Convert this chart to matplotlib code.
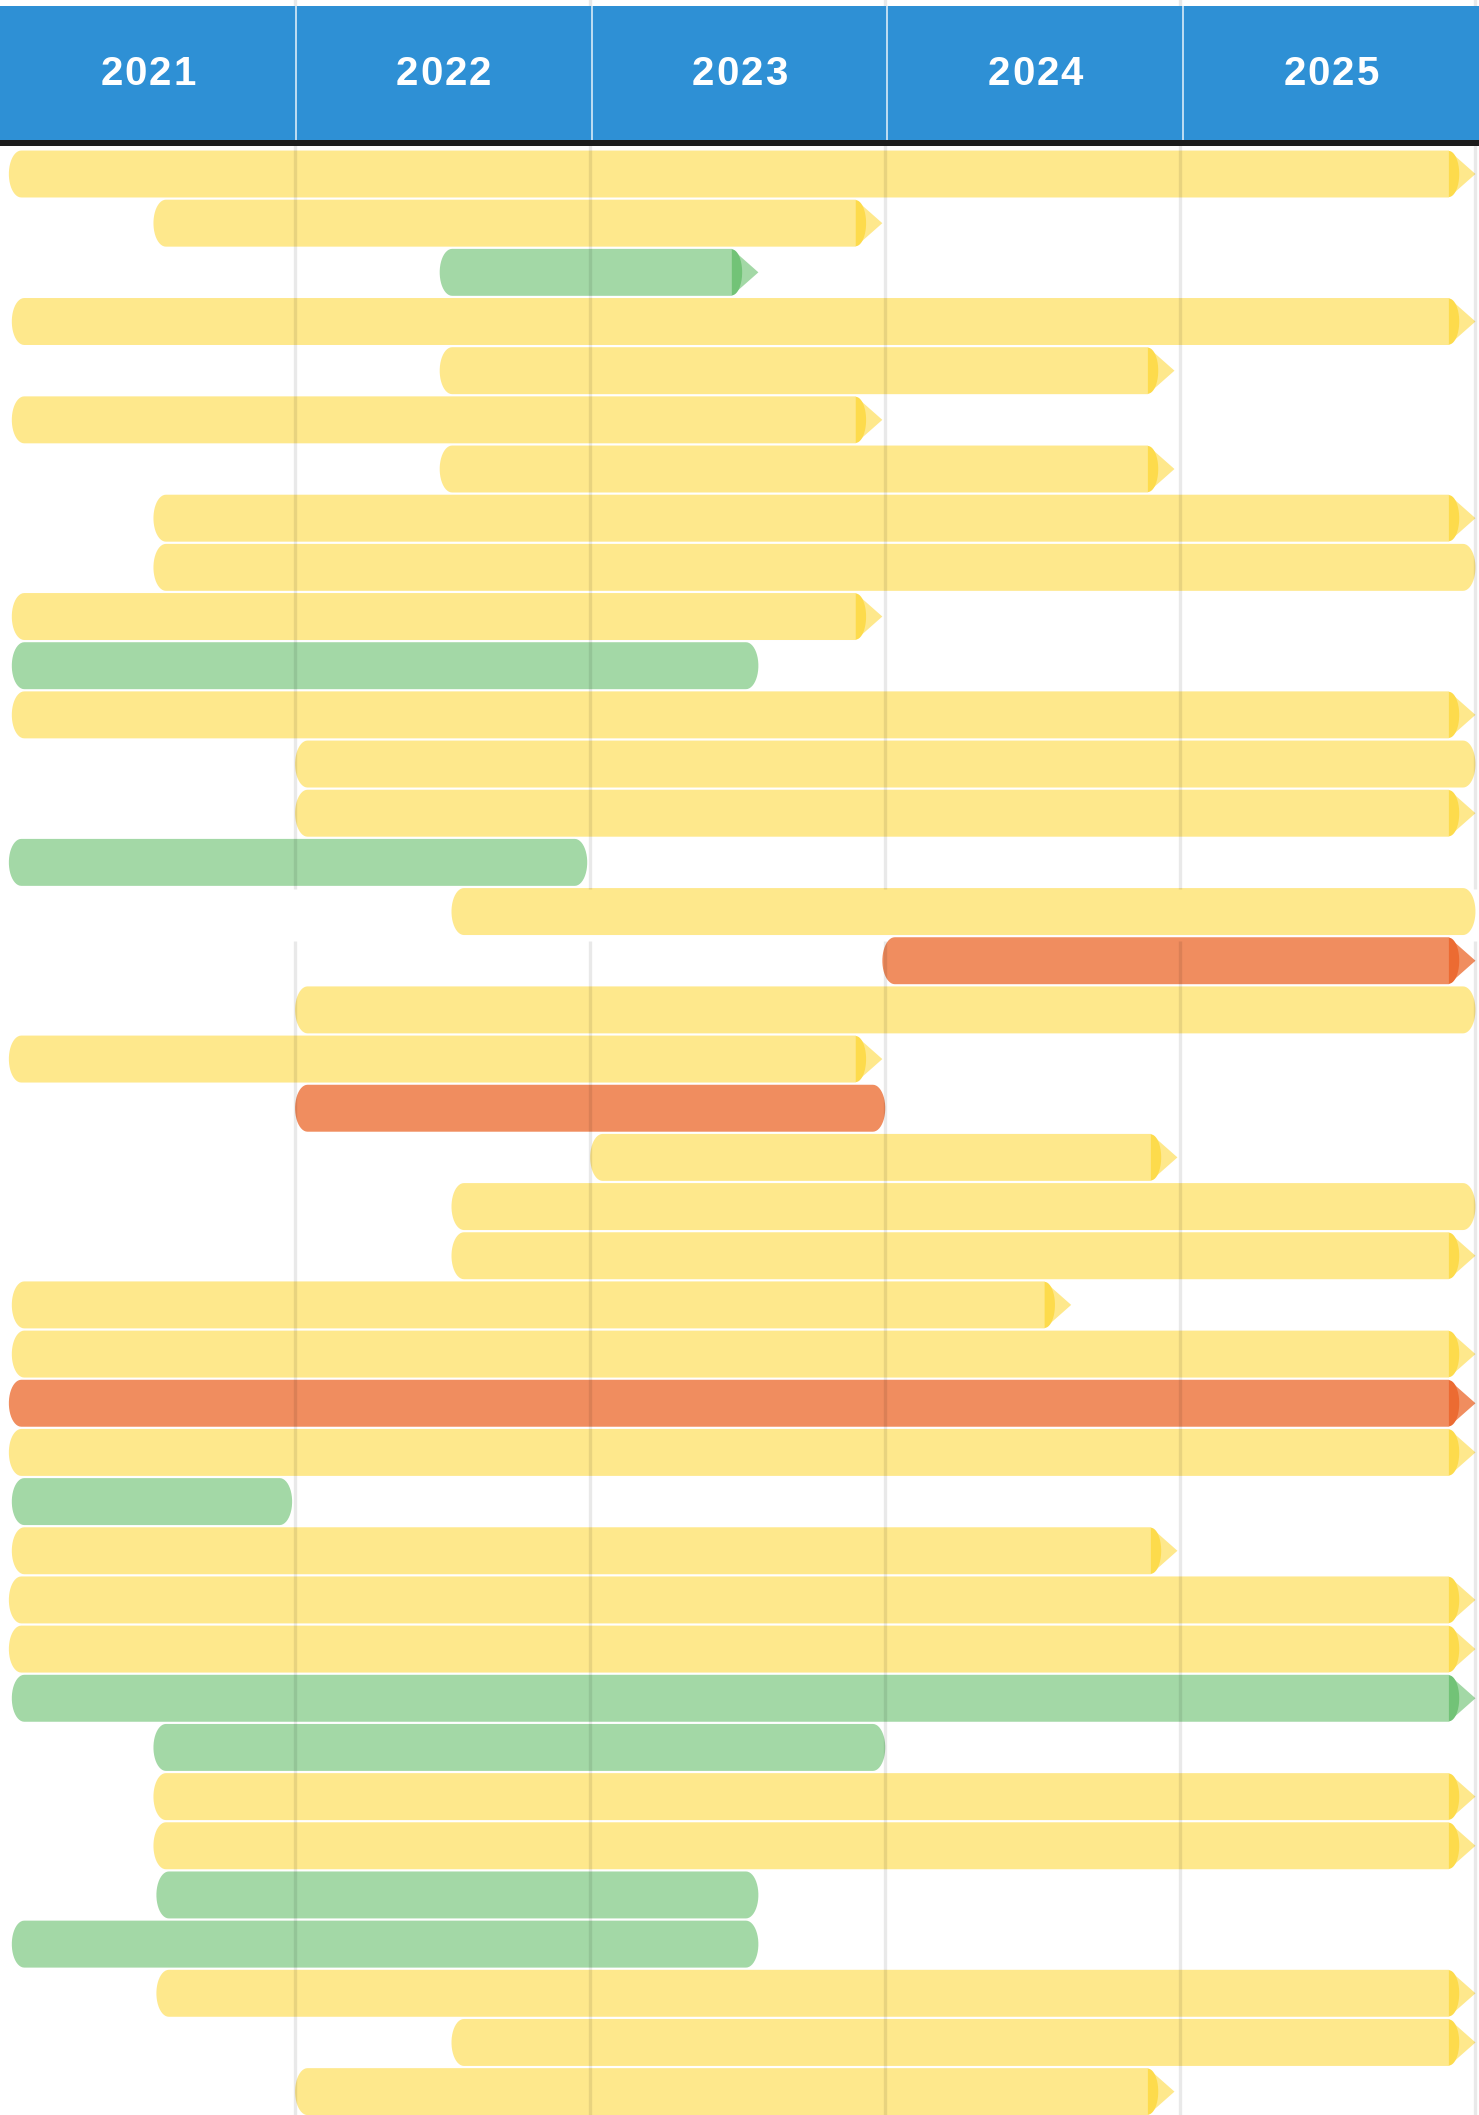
import numpy as np
import matplotlib
matplotlib.use("Agg")
import matplotlib.pyplot as plt
from matplotlib.path import Path
from matplotlib.patches import PathPatch, Rectangle

# ---- data ----
years = [2021, 2022, 2023, 2024, 2025]

status = ['y', 'y', 'g', 'y', 'y', 'y', 'y', 'y', 'y', 'y',
          'g', 'y', 'y', 'y', 'g', 'y', 'o', 'y', 'y', 'o',
          'y', 'y', 'y', 'y', 'y', 'o', 'y', 'g', 'y', 'y',
          'y', 'g', 'g', 'y', 'y', 'g', 'g', 'y', 'y', 'y']

starts = [2021.03, 2021.52, 2022.49, 2021.04, 2022.49, 2021.04, 2022.49, 2021.52, 2021.52, 2021.04,
          2021.04, 2021.04, 2022.00, 2022.00, 2021.03, 2022.53, 2023.99, 2022.00, 2021.03, 2022.00,
          2023.00, 2022.53, 2022.53, 2021.04, 2021.04, 2021.03, 2021.03, 2021.04, 2021.04, 2021.03,
          2021.03, 2021.04, 2021.52, 2021.52, 2021.52, 2021.53, 2021.04, 2021.53, 2022.53, 2022.00]

ends = [2026.00, 2023.99, 2023.57, 2026.00, 2024.98, 2023.99, 2024.98, 2026.00, 2026.00, 2023.99,
        2023.57, 2026.00, 2026.00, 2026.00, 2022.99, 2026.00, 2026.00, 2026.00, 2023.99, 2024.00,
        2024.99, 2026.00, 2026.00, 2024.63, 2026.00, 2026.00, 2026.00, 2021.99, 2024.99, 2026.00,
        2026.00, 2026.00, 2024.00, 2026.00, 2026.00, 2023.57, 2023.57, 2026.00, 2026.00, 2024.98]

# 1 = ongoing (arrow), 0 = finished (rounded end)
ongoing = [1, 1, 1, 1, 1, 1, 1, 1, 0, 1,
           0, 1, 0, 1, 0, 0, 1, 0, 1, 0,
           1, 0, 1, 1, 1, 1, 1, 0, 1, 1,
           1, 1, 0, 1, 1, 0, 0, 1, 1, 1]

fill = {'y': '#FEE88C', 'g': '#A3D8A6', 'o': '#F08D5F'}
dark = {'y': '#FDDB4C', 'g': '#72C377', 'o': '#EC6B32'}

W, H = 1479, 2115
fig = plt.figure(figsize=(W / 100, H / 100), dpi=100)
fig.patch.set_facecolor('white')

# body axes covers the whole figure
ax = fig.add_axes([0, 0, 1, 1])
ax.set_xlim(2021.0, 2026.012)
row0, pitch = 174.0, 49.17
ax.set_ylim((H - row0) / pitch, -row0 / pitch)
ax.axis('off')

bar_h = 0.955
cap = 0.042     # x radius of rounded ends, in years
arrow = 0.09    # arrow length, in years
cres = 0.035    # dark crescent width


def half_ellipse(cx, cy, rx, ry, t0, t1, n=24):
    t = np.linspace(t0, t1, n)
    return list(zip(cx + rx * np.cos(t), cy + ry * np.sin(t)))


for i, (s, e, st, og) in enumerate(zip(starts, ends, status, ongoing)):
    y = i
    hh = bar_h / 2
    # left rounded cap, from top around the left side to bottom
    pts = half_ellipse(s + cap, y, cap, hh, -np.pi / 2, -3 * np.pi / 2)
    if og:
        base = e - arrow
        pts += [(base, y + hh), (e, y), (base, y - hh)]
    else:
        pts += half_ellipse(e - cap, y, cap, hh, np.pi / 2, -np.pi / 2)
    pts.append(pts[0])
    codes = [Path.MOVETO] + [Path.LINETO] * (len(pts) - 2) + [Path.CLOSEPOLY]
    ax.add_patch(PathPatch(Path(pts, codes), facecolor=fill[st], edgecolor='none', zorder=2))
    if og:
        cp = half_ellipse(base, y, cres, hh * 0.98, -np.pi / 2, np.pi / 2)
        cp.append(cp[0])
        cc = [Path.MOVETO] + [Path.LINETO] * (len(cp) - 2) + [Path.CLOSEPOLY]
        ax.add_patch(PathPatch(Path(cp, cc), facecolor=dark[st], edgecolor='none', zorder=3))

# year gridlines, drawn over the bars, with a short break mid-chart
for yr in years[1:] + [2026]:
    ax.vlines(yr, -4, 14.55, color='black', alpha=0.085, lw=2.4, zorder=5)
    ax.vlines(yr, 15.6, 41, color='black', alpha=0.085, lw=2.4, zorder=5)

# header band
hax = fig.add_axes([0, 1 - 140 / H, 1, 134 / H])
hax.set_xlim(2021, 2026)
hax.set_ylim(0, 1)
hax.set_facecolor('#2E90D5')
for sp in hax.spines.values():
    sp.set_visible(False)
hax.set_xticks([])
hax.set_yticks([])
for yr in years[1:]:
    hax.axvline(yr, color='white', alpha=0.75, lw=1.3)

# year labels, drawn digit by digit to get the wide letter spacing
char_pitch = 17.5  # points
for yr in years:
    label = str(yr)
    n = len(label)
    for k, ch in enumerate(label):
        hax.annotate(ch, (yr + 0.5, 0.49), xytext=((k - (n - 1) / 2) * char_pitch, 0),
                     textcoords='offset points', ha='center', va='center', color='white',
                     fontsize=29, fontweight='bold', family=['Liberation Sans', 'DejaVu Sans'])

# dark rule under the header
fig.patches.append(Rectangle((0, 1 - 146 / H), 1, 6 / H, transform=fig.transFigure,
                             facecolor='#1C1C1C', edgecolor='none', zorder=10))

fig.savefig('out.png', dpi=100)
